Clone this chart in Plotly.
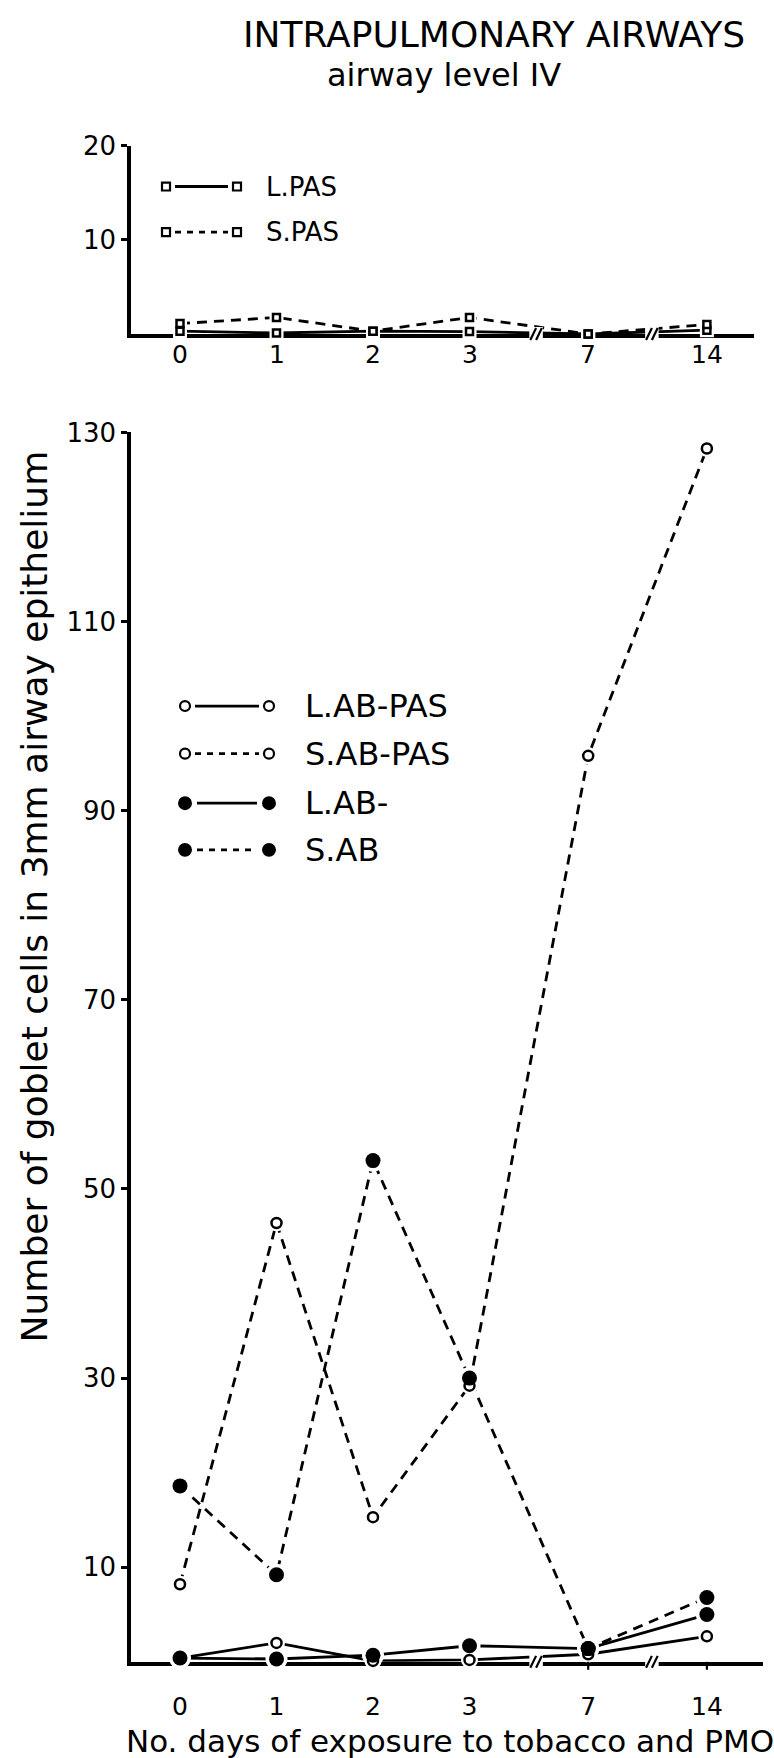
import plotly.graph_objects as go

# ---- data -------------------------------------------------------------
DAYS = [0, 1, 2, 3, 7, 14]
DAY_LABELS = ["0", "1", "2", "3", "7", "14"]

# upper panel (PAS staining)
L_PAS = [0.3, 0.1, 0.3, 0.25, 0.0, 0.4]
S_PAS = [1.1, 1.75, 0.3, 1.75, 0.0, 1.0]

# lower panel
L_AB_PAS = [0.4, 2.0, 0.1, 0.2, 0.8, 2.7]
S_AB_PAS = [8.2, 46.4, 15.3, 29.2, 95.8, 128.3]
L_AB = [0.4, 0.3, 0.7, 1.7, 1.4, 5.0]
S_AB = [18.6, 9.2, 53.0, 30.0, 1.4, 6.8]

Y_TICKS_TOP = [10, 20]
Y_TICKS_BOTTOM = [10, 30, 50, 70, 90, 110, 130]

# ---- layout helpers ---------------------------------------------------
W, H = 774, 1758
FONT = "DejaVu Sans"
INK = "black"

# horizontal slot of each day on the broken time axis
SLOT = {0: 0.0, 1: 1.0, 2: 2.0, 3: 3.0, 7: 4.23, 14: 5.46}
xs = [SLOT[d] for d in DAYS]

X0_PX, PX_PER_SLOT = 180.0, 96.5


def px(x):
    return x / W


def py(y):
    return 1 - y / H


def slot_range(left_px, right_px):
    return [(left_px - X0_PX) / PX_PER_SLOT, (right_px - X0_PX) / PX_PER_SLOT]


AXIS_LEFT = 131
TOP_RIGHT, BOT_RIGHT = 754, 763
TOP_Y0, TOP_Y20 = 321.7, 131.7
BOT_Y0, BOT_Y130 = 1661.0, 421.0

fig = go.Figure()

LW = 2.8
DASH = "10px,7px"


def add_series(xa, ya, ys, dash, symbol, filled, size):
    fig.add_trace(go.Scatter(
        x=xs, y=ys, xaxis=xa, yaxis=ya, mode="lines",
        line=dict(color=INK, width=LW, dash=dash),
        cliponaxis=False, showlegend=False, hoverinfo="skip"))
    return dict(xa=xa, ya=ya, ys=ys, symbol=symbol, filled=filled, size=size)


series = [
    add_series("x", "y", L_PAS, "solid", "square", False, 7),
    add_series("x", "y", S_PAS, DASH, "square", False, 7),
    add_series("x2", "y2", L_AB_PAS, "solid", "circle", False, 10),
    add_series("x2", "y2", S_AB_PAS, DASH, "circle", False, 10),
    add_series("x2", "y2", L_AB, "solid", "circle", True, 15),
    add_series("x2", "y2", S_AB, DASH, "circle", True, 15),
]

# white halos open a small gap between the lines and each symbol
for s in series:
    fig.add_trace(go.Scatter(
        x=xs, y=s["ys"], xaxis=s["xa"], yaxis=s["ya"], mode="markers",
        marker=dict(symbol=s["symbol"], size=s["size"] + 7, color="white",
                    line=dict(width=0)),
        cliponaxis=False, showlegend=False, hoverinfo="skip"))

for s in series:
    fig.add_trace(go.Scatter(
        x=xs, y=s["ys"], xaxis=s["xa"], yaxis=s["ya"], mode="markers",
        marker=dict(symbol=s["symbol"], size=s["size"],
                    color=INK if s["filled"] else "white",
                    line=dict(color=INK, width=0 if s["filled"] else 2.5)),
        cliponaxis=False, showlegend=False, hoverinfo="skip"))

# ---- axes -------------------------------------------------------------
common_x = dict(tickmode="array", tickvals=xs,
                showgrid=False, zeroline=False, showline=True,
                linecolor=INK, linewidth=3.5, ticks="",
                tickfont=dict(family=FONT, size=25, color=INK),
                layer="below traces")
common_y = dict(showgrid=False, zeroline=False, showline=True,
                linecolor=INK, linewidth=3.5, ticks="outside", ticklen=6,
                tickwidth=2.5, tickcolor=INK,
                tickfont=dict(family=FONT, size=26, color=INK),
                layer="below traces")

fig.update_layout(
    width=W, height=H,
    margin=dict(l=0, r=0, t=0, b=0),
    paper_bgcolor="white", plot_bgcolor="white",
    showlegend=False,
    # the upper time axis gets its day labels as annotations (set tight
    # under the line), so its own tick labels are hidden
    xaxis=dict(common_x, domain=[px(AXIS_LEFT), px(TOP_RIGHT)],
               range=slot_range(AXIS_LEFT, TOP_RIGHT), anchor="y",
               showticklabels=False),
    yaxis=dict(common_y, domain=[py(TOP_Y0), py(TOP_Y20)], range=[0, 20],
               tickvals=Y_TICKS_TOP, anchor="x"),
    xaxis2=dict(common_x, domain=[px(AXIS_LEFT), px(BOT_RIGHT)],
                range=slot_range(AXIS_LEFT, BOT_RIGHT), anchor="y2",
                ticktext=DAY_LABELS, ticklabelstandoff=19),
    yaxis2=dict(common_y, domain=[py(BOT_Y0), py(BOT_Y130)], range=[0, 130],
                tickvals=Y_TICKS_BOTTOM, anchor="x2"),
)

shapes = []
annotations = []

for xv, lab in zip(xs, DAY_LABELS):
    annotations.append(dict(text=lab, xref="x", yref="paper", x=xv,
                            y=py(TOP_Y0 + 21), xanchor="center",
                            yanchor="middle", showarrow=False,
                            font=dict(family=FONT, size=25, color=INK)))

# axis breaks between day 3 and day 7, and between day 7 and day 14
for xa, ya in (("x", "y"), ("x2", "y2")):
    base_px = TOP_Y0 if ya == "y" else BOT_Y0
    for b in (3.69, 4.89):
        shapes.append(dict(type="rect", xref=xa, yref="paper",
                           x0=b - 0.07, x1=b + 0.07,
                           y0=py(base_px + 7), y1=py(base_px - 7),
                           fillcolor="white", line=dict(width=0), layer="above"))
        for off in (-0.03, 0.03):
            shapes.append(dict(type="line", xref=xa, yref="paper",
                               x0=b + off - 0.03, x1=b + off + 0.03,
                               y0=py(base_px + 6), y1=py(base_px - 6),
                               line=dict(color=INK, width=2.2), layer="above"))

# small ticks under the later days of the lower axis
for d in (7, 14):
    shapes.append(dict(type="line", xref="x2", yref="paper",
                       x0=SLOT[d], x1=SLOT[d],
                       y0=py(BOT_Y0), y1=py(BOT_Y0 + 8),
                       line=dict(color=INK, width=2.2), layer="above"))


# ---- key entries (symbol – line – symbol, then the name) ---------------
def key_entry(y, dash, symbol, filled, r, name, x1, x2, tx, size):
    gap = r + 5
    shapes.append(dict(type="line", xref="paper", yref="paper",
                       x0=px(x1 + gap), x1=px(x2 - gap), y0=py(y), y1=py(y),
                       line=dict(color=INK, width=LW, dash=dash)))
    for cx in (x1, x2):
        shapes.append(dict(type="rect" if symbol == "square" else "circle",
                           xref="paper", yref="paper",
                           x0=px(cx - r), x1=px(cx + r),
                           y0=py(y + r), y1=py(y - r),
                           fillcolor=INK if filled else "white",
                           line=dict(color=INK, width=0 if filled else 2.2)))
    annotations.append(dict(text=name, xref="paper", yref="paper",
                            x=px(tx), y=py(y), xanchor="left", yanchor="middle",
                            showarrow=False,
                            font=dict(family=FONT, size=size, color=INK)))


key_entry(173, "solid", "square", False, 4, "L.PAS", 166, 237, 264, 26)
key_entry(219, "6px,6px", "square", False, 4, "S.PAS", 166, 237, 264, 26)
key_entry(697, "solid", "circle", False, 5, "L.AB-PAS", 185, 269, 303, 32)
key_entry(745, "6px,6px", "circle", False, 5, "S.AB-PAS", 185, 269, 303, 32)
key_entry(795, "solid", "circle", True, 7, "L.AB-", 185, 269, 303, 32)
key_entry(842, "6px,6px", "circle", True, 7, "S.AB", 185, 269, 303, 32)

# ---- titles -----------------------------------------------------------
annotations += [
    dict(text="INTRAPULMONARY AIRWAYS", xref="paper", yref="paper",
         x=px(494), y=py(19.5), xanchor="center", yanchor="middle",
         showarrow=False, font=dict(family=FONT, size=36, color=INK)),
    dict(text="airway level IV", xref="paper", yref="paper",
         x=px(444), y=py(61), xanchor="center", yanchor="middle",
         showarrow=False, font=dict(family=FONT, size=32, color=INK)),
    dict(text="Number of goblet cells in 3mm airway epithelium",
         xref="paper", yref="paper", x=px(34), y=py(889),
         xanchor="center", yanchor="middle", textangle=-90,
         showarrow=False, font=dict(family=FONT, size=36, color=INK)),
    dict(text="No. days of exposure to tobacco and PMO",
         xref="paper", yref="paper", x=px(450), y=py(1741),
         xanchor="center", yanchor="middle",
         showarrow=False, font=dict(family=FONT, size=31, color=INK)),
]

fig.update_layout(shapes=shapes, annotations=annotations)
fig.write_html("out.html")
